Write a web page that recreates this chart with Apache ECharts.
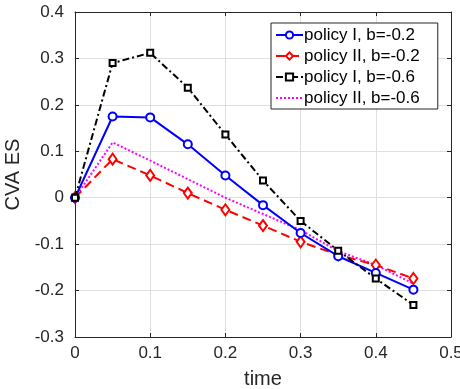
<!DOCTYPE html>
<html>
<head>
<meta charset="utf-8">
<script src="https://cdn.jsdelivr.net/npm/echarts@6/dist/echarts.min.js"></script>
<style>
  html, body { margin: 0; padding: 0; background: #fff; }
  #chart { width: 460px; height: 389px; }
</style>
</head>
<body>
<div id="chart"></div>
<script>
// time points
const times = [0, 0.05, 0.1, 0.15, 0.2, 0.25, 0.3, 0.35, 0.4, 0.45];

// CVA ES values
const policyI_b02 = [0, 0.175, 0.173, 0.115, 0.048, -0.016, -0.076, -0.126, -0.162, -0.198];
const policyII_b02 = [0, 0.083, 0.048, 0.010, -0.026, -0.060, -0.095, -0.123, -0.145, -0.174];
const policyI_b06 = [0, 0.290, 0.312, 0.237, 0.136, 0.037, -0.050, -0.114, -0.174, -0.231];
const policyII_b06 = [0, 0.119, 0.080, 0.040, 0.000, -0.035, -0.070, -0.115, -0.145, -0.185];

const seriesNames = ['policy I, b=-0.2', 'policy II, b=-0.2', 'policy I, b=-0.6', 'policy II, b=-0.6'];

const FONT = '"Liberation Sans", Arial, Helvetica, sans-serif';
const AXIS_COLOR = '#262626';
const GRID_COLOR = '#dfdfdf';

function pairs(values) {
  return times.map((t, i) => [t, values[i]]);
}

const chart = echarts.init(document.getElementById('chart'), null, { renderer: 'canvas' });

const baseAxis = {
  type: 'value',
  axisLine: { show: true, onZero: false, lineStyle: { color: AXIS_COLOR, width: 1 } },
  axisTick: { show: true, inside: true, length: 4, lineStyle: { color: AXIS_COLOR } },
  splitLine: { show: false }
};

const tickLabel = v => String(Math.round(v * 10) / 10);

chart.setOption({
  animation: false,
  textStyle: { fontFamily: FONT },
  grid: { left: 75, right: 9, top: 12, bottom: 52, containLabel: false, outerBoundsMode: 'none' },
  legend: {
    orient: 'vertical',
    left: 271,
    top: 23,
    data: [
      seriesNames[0],
      seriesNames[1],
      seriesNames[2],
      // dotted series has no markers, hide the default legend circle
      { name: seriesNames[3], itemStyle: { opacity: 0 } }
    ],
    backgroundColor: '#fff',
    borderColor: AXIS_COLOR,
    borderWidth: 1,
    padding: [3, 18, 2, 4],
    itemGap: 3,
    itemWidth: 27,
    itemHeight: 9,
    textStyle: { fontFamily: FONT, fontSize: 17, lineHeight: 18, color: '#000', padding: [0, 0, 0, -4] }
  },
  xAxis: [
    Object.assign({}, baseAxis, {
      min: 0, max: 0.5, interval: 0.1,
      name: 'time', nameLocation: 'middle', nameGap: 32,
      nameTextStyle: { fontFamily: FONT, fontSize: 20, color: AXIS_COLOR },
      axisLabel: { fontFamily: FONT, fontSize: 17, color: AXIS_COLOR, margin: 8, formatter: tickLabel },
      splitLine: { show: true, lineStyle: { color: GRID_COLOR, width: 1 } }
    }),
    Object.assign({}, baseAxis, {
      position: 'top', min: 0, max: 0.5, interval: 0.1,
      axisLabel: { show: false }
    })
  ],
  yAxis: [
    Object.assign({}, baseAxis, {
      min: -0.3, max: 0.4, interval: 0.1,
      name: 'CVA ES', nameLocation: 'middle', nameGap: 43,
      nameTextStyle: { fontFamily: FONT, fontSize: 20, color: AXIS_COLOR },
      axisLabel: { fontFamily: FONT, fontSize: 17, color: AXIS_COLOR, margin: 11, formatter: tickLabel },
      splitLine: { show: true, lineStyle: { color: GRID_COLOR, width: 1 } }
    }),
    Object.assign({}, baseAxis, {
      position: 'right', min: -0.3, max: 0.4, interval: 0.1,
      axisLabel: { show: false }
    })
  ],
  series: [
    {
      name: seriesNames[0], type: 'line', data: pairs(policyI_b02),
      symbol: 'emptyCircle', symbolSize: 8, z: 4,
      lineStyle: { color: '#0000ff', width: 2, type: 'solid' },
      itemStyle: { color: '#0000ff', borderColor: '#0000ff', borderWidth: 2 }
    },
    {
      name: seriesNames[1], type: 'line', data: pairs(policyII_b02),
      symbol: 'emptyDiamond', symbolSize: [8, 11], z: 3,
      lineStyle: { color: '#ff0000', width: 2, type: [9, 5] },
      itemStyle: { color: '#ff0000', borderColor: '#ff0000', borderWidth: 2 }
    },
    {
      name: seriesNames[2], type: 'line', data: pairs(policyI_b06),
      symbol: 'emptyRect', symbolSize: 6, z: 5,
      lineStyle: { color: '#000000', width: 2, type: [7, 3, 2, 3] },
      itemStyle: { color: '#000000', borderColor: '#000000', borderWidth: 2 }
    },
    {
      name: seriesNames[3], type: 'line', data: pairs(policyII_b06),
      symbol: 'none', z: 2,
      lineStyle: { color: '#ff00ff', width: 2, type: [2, 2] },
      itemStyle: { color: '#ff00ff' }
    }
  ]
});
</script>
</body>
</html>
